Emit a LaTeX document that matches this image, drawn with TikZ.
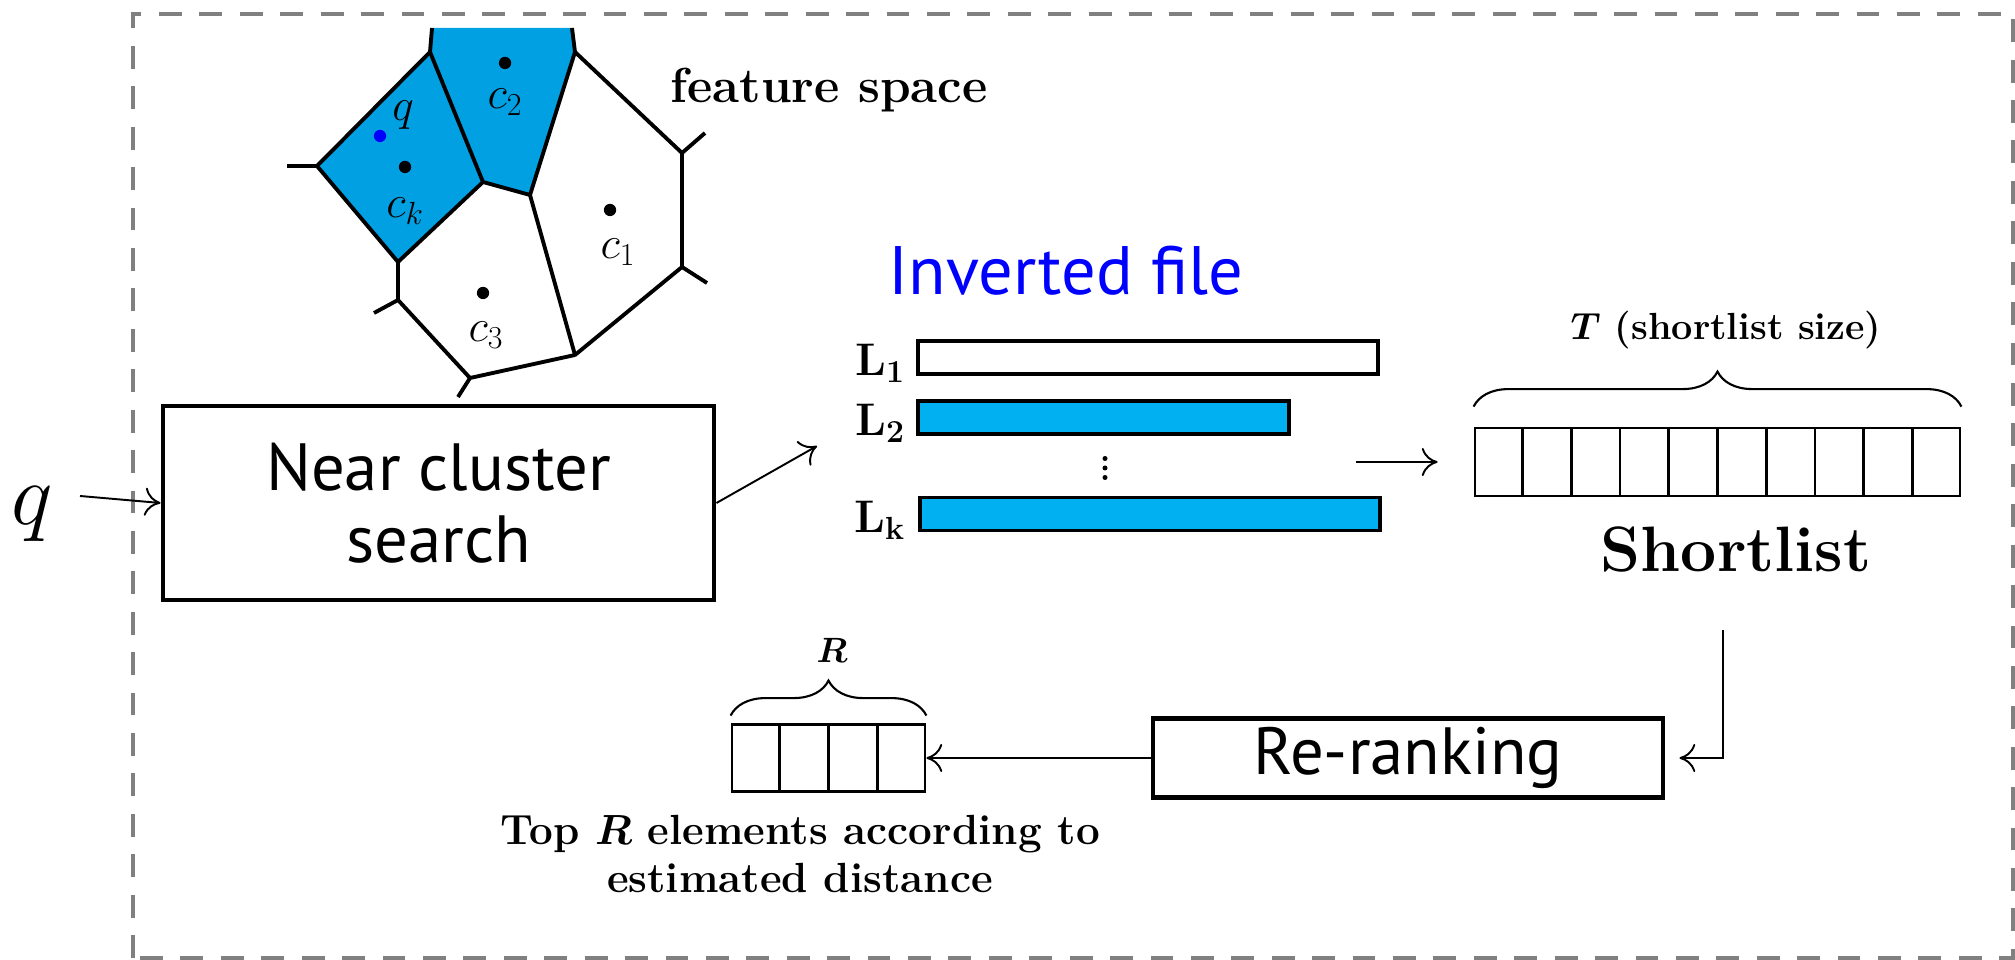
\RequirePackage{fix-cm}
\documentclass[tikz,border=0pt]{standalone}
\usepackage{fontspec}
\setsansfont{PT Sans}
\usetikzlibrary{calc, positioning, arrows.meta, decorations.pathreplacing}
\definecolor{CellBlue}{RGB}{0,160,227}
\definecolor{ListBlue}{RGB}{0,176,240}
\definecolor{FrameGray}{RGB}{128,128,128}
\tikzset{
  StepBox/.style={draw, line width=2.8pt, align=center, inner sep=0pt,
    font=\sffamily\fontsize{38}{41}\selectfont},
  ListBar/.style={draw, line width=2pt, minimum height=0.66cm, inner sep=0pt},
  ListLabel/.style={font=\bfseries\boldmath\fontsize{26}{26}\selectfont, inner sep=0pt},
  CellArray/.style={draw, line width=1.6pt, inner sep=0pt},
  Flow/.style={line width=1.1pt, -{To[length=9pt,width=16pt]}},
  Edge/.style={line width=2.2pt, line join=round},
  Brace/.style={decorate, decoration={brace, amplitude=#1}, line width=1.2pt},
  Centre/.style={circle, fill, inner sep=0pt, minimum size=7pt},
  CentreLabel/.style={font=\fontsize{26}{26}\selectfont, inner sep=0pt},
  BoldText/.style={font=\bfseries\boldmath\fontsize{#1}{#1}\selectfont, inner sep=0pt},
}
\begin{document}
\begin{tikzpicture}

    \useasboundingbox (0, 0) rectangle (40.3, 19.2);
    \draw[FrameGray, line width=2.3pt, dash pattern=on 13pt off 10pt]
    (2.66, 0.04) rectangle (40.26, 18.92);

    % Vertices del diagrama de Voronoi
    \coordinate (A) at (6.34, 15.88);
    \coordinate (As) at (5.74, 15.88);
    \coordinate (B) at (8.6, 18.16);
    \coordinate (Bt) at (8.64, 18.64);
    \coordinate (C) at (9.66, 15.56);
    \coordinate (D) at (7.96, 13.96);
    \coordinate (E) at (10.6, 15.3);
    \coordinate (F) at (11.5, 18.16);
    \coordinate (Ft) at (11.44, 18.64);
    \coordinate (G) at (13.64, 16.14);
    \coordinate (Gs) at (14.1, 16.54);
    \coordinate (H) at (13.64, 13.86);
    \coordinate (Hs) at (14.14, 13.54);
    \coordinate (I) at (11.5, 12.1);
    \coordinate (J) at (9.4, 11.64);
    \coordinate (Js) at (9.16, 11.26);
    \coordinate (K) at (7.96, 13.2);
    \coordinate (Ks) at (7.48, 12.94);

    % Celdas de c_k y c_2
    \fill[CellBlue] (A) -- (B) -- (Bt) -- (Ft) -- (F) -- (E) -- (C) -- (D) -- cycle;

    \draw[Edge] (As) -- (A) -- (B) -- (Bt);
    \draw[Edge] (A) -- (D) -- (C) -- (B);
    \draw[Edge] (C) -- (E) -- (F) -- (Ft);
    \draw[Edge] (F) -- (G) -- (Gs);
    \draw[Edge] (G) -- (H) -- (Hs);
    \draw[Edge] (H) -- (I) -- (E);
    \draw[Edge] (I) -- (J) -- (Js);
    \draw[Edge] (J) -- (K) -- (Ks);
    \draw[Edge] (K) -- (D);

    \node[Centre] (c2) at (10.1, 17.94) {};
    \node[CentreLabel] at (10.1, 17.15) {$c_2$};
    \node[Centre, blue] (qp) at (7.6, 16.48) {};
    \node[CentreLabel] at (8.06, 16.9) {$q$};
    \node[Centre] (ck) at (8.1, 15.86) {};
    \node[CentreLabel] at (8.1, 14.98) {$c_k$};
    \node[Centre] (c1) at (12.2, 15.0) {};
    \node[CentreLabel] at (12.36, 14.15) {$c_1$};
    \node[Centre] (c3) at (9.66, 13.34) {};
    \node[CentreLabel] at (9.72, 12.5) {$c_3$};

    \node[BoldText=28] (fs) at (16.58, 17.4) {feature space};

    % Busqueda del cluster cercano
    \node (q) at (0.64, 8.92) {\fontsize{50}{50}\selectfont $q$};
    \node[StepBox, minimum width=11.02cm, minimum height=3.88cm] (ncs) at (8.77, 9.14)
    {Near cluster\\search};
    \coordinate (qout) at (1.6, 9.28);
    \coordinate (toinv) at (16.34, 10.28);
    \draw[Flow] (qout) -- (ncs.west);
    \draw[Flow] (ncs.east) -- (toinv);

    % Fichero invertido
    \node[text=blue, font=\sffamily\fontsize{39}{39}\selectfont] (inv) at (21.32, 13.78)
    {Inverted file};
    \node[ListBar, minimum width=9.2cm] (l1) at (22.96, 12.05) {};
    \node[ListBar, fill=ListBlue, minimum width=7.42cm] (l2) at (22.07, 10.85) {};
    \node[ListBar, fill=ListBlue, minimum width=9.2cm] (lk) at (23.0, 8.92) {};
    \node[ListLabel, left=0.22cm of l1, yshift=-0.12cm] {L$_{\mathbf{1}}$};
    \node[ListLabel, left=0.22cm of l2, yshift=-0.12cm] {L$_{\mathbf{2}}$};
    \node[ListLabel, left=0.26cm of lk, yshift=-0.12cm] {L$_{\mathbf{k}}$};
    \coordinate (dots) at (22.1, 9.65);
    \foreach \k in {0,1,2}
        \fill ($(dots)+(0,\k*0.19)$) circle (0.05);

    % Lista corta
    \node[CellArray, minimum width=9.7cm, minimum height=1.36cm] (sl) at (34.35, 9.96) {};
    \foreach \i in {1,...,9}
        \draw[line width=1.6pt] ($(sl.south west)!\i/10!(sl.south east)$)
        -- ($(sl.north west)!\i/10!(sl.north east)$);
    \draw[Brace=0.7cm] ([yshift=0.4cm]sl.north west) -- ([yshift=0.4cm]sl.north east);
    \node[BoldText=21.5] (tsize) at (34.52, 12.6) {$T$ (shortlist size)};
    \node[BoldText=36.5] (slt) at (34.72, 8.2) {Shortlist};
    \coordinate (ifout) at (27.12, 9.96);
    \draw[Flow, shorten >=0.72cm] (ifout) -- (sl.west);

    % Reordenacion
    \node[StepBox, minimum width=10.2cm, minimum height=1.58cm] (rr) at (28.16, 4.04)
    {Re-ranking};
    \coordinate (dn) at (34.46, 6.6);
    \draw[Flow, shorten >=0.28cm] (dn) |- (rr.east);

    \node[CellArray, minimum width=3.86cm, minimum height=1.34cm] (top) at (16.57, 4.04) {};
    \foreach \i in {1,2,3}
        \draw[line width=1.6pt] ($(top.south west)!\i/4!(top.south east)$)
        -- ($(top.north west)!\i/4!(top.north east)$);
    \draw[Brace=0.7cm] ([yshift=0.15cm]top.north west) -- ([yshift=0.15cm]top.north east);
    \node[BoldText=20] (rsize) at (16.64, 6.2) {$R$};
    \draw[Flow] (rr.west) -- (top.east);

    \node[align=center, inner sep=0pt, font=\bfseries\boldmath\fontsize{24}{27.5}\selectfont]
    (toptxt) at (16.0, 2.12) {Top $R$ elements according to\\estimated distance};
\end{tikzpicture}
\end{document}
